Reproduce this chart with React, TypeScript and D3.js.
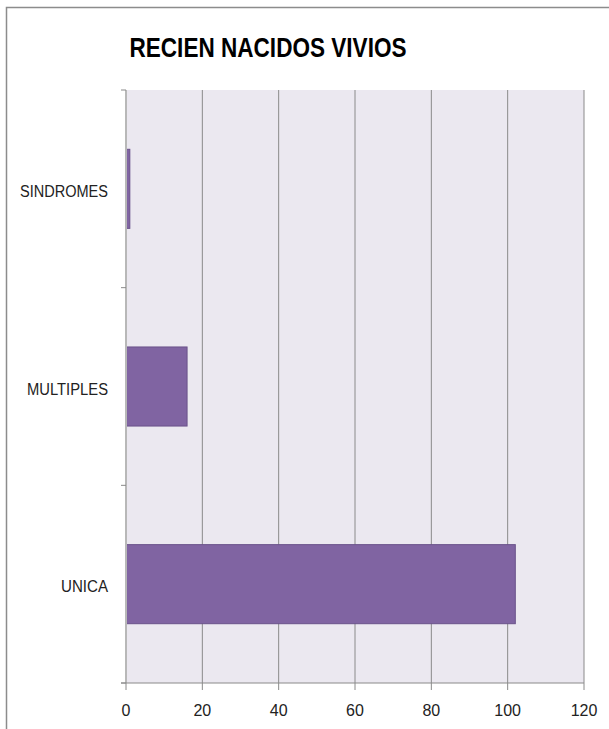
import React from "react";
import * as d3 from "d3";

const categories = ["SINDROMES", "MULTIPLES", "UNICA"];
const values = [1, 16, 102];
const xTicks = [0, 20, 40, 60, 80, 100, 120];
const title = "RECIEN NACIDOS VIVIOS";

export default function App() {
  const W = 609, H = 729;
  const left = 126, right = 584, top = 90, bottom = 683;
  const x = d3.scaleLinear().domain([0, 120]).range([left, right]);
  const y = d3.scaleBand<string>().domain(categories).range([top, bottom]).paddingInner(0.6).paddingOuter(0.3);
  const step = (bottom - top) / categories.length;
  const font = "'Liberation Sans', Arial, sans-serif";
  const catWidths: Record<string, number> = { SINDROMES: 88, MULTIPLES: 81, UNICA: 47 };
  return (
    <svg width={W} height={H} style={{ position: "absolute", left: 0, top: 0 }}>
      <rect x={0} y={0} width={W} height={H} fill="#fff" />
      <rect x={6.5} y={7.5} width={W + 10} height={H + 10} fill="none" stroke="#8c8c8c" strokeWidth={1.5} />
      <text x={268} y={57} textAnchor="middle" fontFamily={font} fontWeight="bold" fontSize={28.5}
        textLength={277} lengthAdjust="spacingAndGlyphs" fill="#000">{title}</text>
      <rect x={left} y={top} width={right - left} height={bottom - top} fill="#EBE8F0" />
      {xTicks.slice(1).map((t) => (
        <line key={"g" + t} x1={x(t)} x2={x(t)} y1={top} y2={bottom} stroke="#8a8a8a" strokeWidth={1} />
      ))}
      {categories.map((c, i) => (
        <rect key={c} x={x(0)} y={y(c)!} width={x(values[i]) - x(0)} height={y.bandwidth()}
          fill="#8064A2" stroke="#6a528a" strokeWidth={1} />
      ))}
      <line x1={left} x2={left} y1={top} y2={bottom} stroke="#b8b8b8" strokeWidth={2} />
      {d3.range(categories.length + 1).map((i) => (
        <line key={"lt" + i} x1={left - 5} x2={left} y1={top + i * step} y2={top + i * step} stroke="#8a8a8a" />
      ))}
      <line x1={left - 5} x2={right} y1={bottom} y2={bottom} stroke="#8a8a8a" strokeWidth={1} />
      {xTicks.map((t) => (
        <g key={"t" + t}>
          <line x1={x(t)} x2={x(t)} y1={bottom} y2={bottom + 7} stroke="#8a8a8a" />
          <text x={x(t)} y={715.5} textAnchor="middle" fontFamily={font} fontSize={16} fill="#222">{t}</text>
        </g>
      ))}
      {categories.map((c) => (
        <text key={"l" + c} x={108} y={y(c)! + y.bandwidth() / 2 + 8} textAnchor="end" fontFamily={font}
          fontSize={16} fill="#222" textLength={catWidths[c]} lengthAdjust="spacingAndGlyphs">{c}</text>
      ))}
    </svg>
  );
}
